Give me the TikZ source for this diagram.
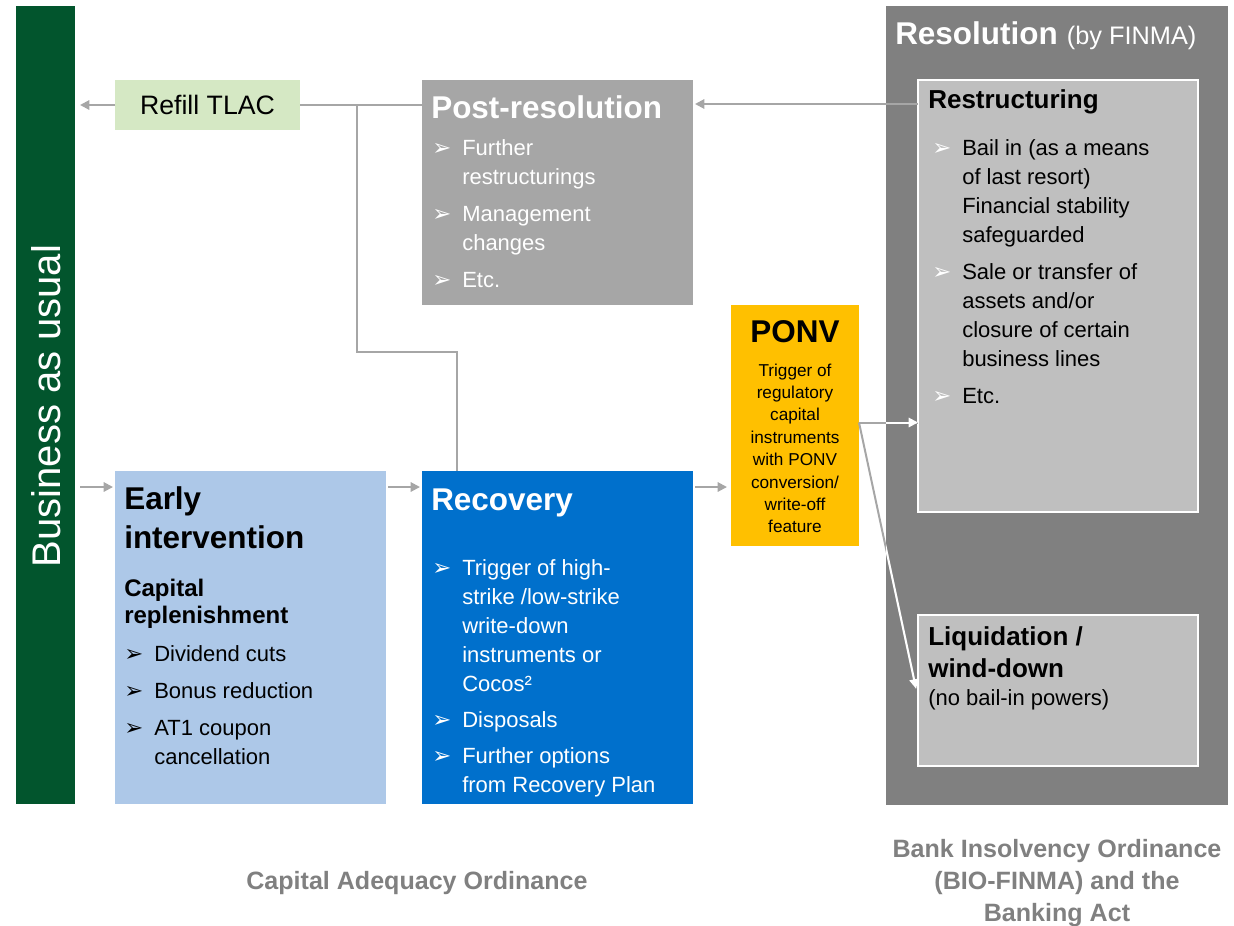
\documentclass[tikz,border=0pt]{standalone}
\usepackage{fontspec}
\setmainfont{Liberation Sans}
\newfontfamily\bulfont{DejaVu Sans}
\usetikzlibrary{arrows.meta,calc}
\definecolor{bauGreen}{RGB}{2,85,45}
\definecolor{refillGreen}{RGB}{213,232,196}
\definecolor{postGray}{RGB}{166,166,166}
\definecolor{resGray}{RGB}{128,128,128}
\definecolor{boxGray}{RGB}{191,191,191}
\definecolor{earlyBlue}{RGB}{173,200,232}
\definecolor{recBlue}{RGB}{0,112,204}
\definecolor{ponvYellow}{RGB}{255,192,0}
\definecolor{lineGray}{RGB}{166,166,166}
\newcommand{\blk}{\makebox[22.5pt][l]{\bulfont\fontsize{17}{17}\selectfont\color{black}➢}}
\newcommand{\blw}{\makebox[22.5pt][l]{\bulfont\fontsize{17}{17}\selectfont\color{white}➢}}
\newcommand{\ind}{\hspace*{22.5pt}}
\newcommand{\tl}[1]{\begin{tabular}[t]{@{}l@{}}#1\end{tabular}}
\newcommand{\tc}[1]{\begin{tabular}[t]{@{}c@{}}#1\end{tabular}}
\begin{document}
\begin{tikzpicture}[x=0.75pt,y=-0.75pt,
  box/.style={inner sep=0pt, outer sep=0pt, draw=none},
  line/.style={draw=lineGray, line width=1.5pt},
  arr/.style={line, -{Triangle[length=7pt,width=7pt]}},
  warr/.style={draw=white, line width=1.5pt, -{Triangle[length=7pt,width=7pt]}},
  body/.style={font=\fontsize{16.5}{21.75}\selectfont, anchor=base west, inner sep=0pt},
  bigtitle/.style={font=\bfseries\fontsize{23.6}{29.25}\selectfont, anchor=base west, inner sep=0pt},
  subtitle/.style={font=\bfseries\fontsize{19.5}{24}\selectfont, anchor=base west, inner sep=0pt},
  lawlabel/.style={font=\bfseries\fontsize{18.8}{24}\selectfont, text=resGray, anchor=base, inner sep=0pt}
]
\useasboundingbox (0,0) rectangle (1234,925);

% boxes
\node[box, fill=bauGreen, minimum width=44.25pt, minimum height=598.5pt] (bau) at (45.5,405) {};
\node[box, fill=resGray, minimum width=256.5pt, minimum height=599.25pt] (res) at (1057,405.5) {};
\node[box, fill=boxGray, draw=white, line width=1.5pt, minimum width=210pt, minimum height=324pt] (restr) at (1058,296) {};
\node[box, fill=boxGray, draw=white, line width=1.5pt, minimum width=210pt, minimum height=113.25pt] (liq) at (1058,690.5) {};
\node[box, fill=refillGreen, minimum width=138.75pt, minimum height=37.5pt, font=\fontsize{20}{24}\selectfont] (refill) at (207.5,105) {Refill TLAC};
\node[box, fill=postGray, minimum width=203.25pt, minimum height=168.75pt] (post) at (557.5,192.5) {};
\node[box, fill=earlyBlue, minimum width=203.25pt, minimum height=249.75pt] (early) at (250.5,637.5) {};
\node[box, fill=recBlue, minimum width=203.25pt, minimum height=249.75pt] (rec) at (557.5,637.5) {};
\node[box, fill=ponvYellow, minimum width=96pt, minimum height=180.75pt] (ponv) at (795,425.5) {};

% vertical label
\node[rotate=90, text=white, font=\fontsize{30}{36}\selectfont, inner sep=0pt] (bautxt) at (46,406) {Business as usual};

% Resolution
\node[anchor=base west, inner sep=0pt, text=white] (restitle) at (895,44) {{\bfseries\fontsize{23.6}{29}\selectfont Resolution}\hspace{4pt} {\fontsize{19}{24}\selectfont (by FINMA)}};
\node[subtitle] (restrtitle) at (928,108) {Restructuring};
\node[body] (restrtxt) at (932,155) {\tl{\blw Bail in (as a means\\ \ind of last resort)\\ \ind Financial stability\\ \ind safeguarded\\[6pt] \blw Sale or transfer of\\ \ind assets and/or\\ \ind closure of certain\\ \ind business lines\\[6pt] \blw Etc.}};
\node[subtitle] (liqtitle) at (928,645) {\tl{Liquidation /\\ wind-down}};
\node[body] (liqtxt) at (928,705) {(no bail-in powers)};

% Post-resolution
\node[bigtitle, text=white] (posttitle) at (431,118) {Post-resolution};
\node[body, text=white] (posttxt) at (432,155) {\tl{\blw Further\\ \ind restructurings\\[6pt] \blw Management\\ \ind changes\\[6pt] \blw Etc.}};

% Early intervention
\node[bigtitle] (earlytitle) at (124,509) {\tl{Early\\ intervention}};
\node[font=\bfseries\fontsize{18}{20.25}\selectfont, anchor=base west, inner sep=0pt] (earlysub) at (124,596) {\tl{Capital\\ replenishment}};
\node[body] (earlytxt) at (124,661) {\tl{\blk Dividend cuts\\[6pt] \blk Bonus reduction\\[6pt] \blk AT1 coupon\\ \ind cancellation}};

% Recovery
\node[bigtitle, text=white] (rectitle) at (431,510) {Recovery};
\node[body, text=white] (rectxt) at (432,575) {\tl{\blw Trigger of high-\\ \ind strike /low-strike\\ \ind write-down\\ \ind instruments or\\ \ind Cocos²\\[5.5pt] \blw Disposals\\[5.5pt] \blw Further options\\ \ind from Recovery Plan}};

% PONV
\node[font=\bfseries\fontsize{23.6}{29}\selectfont, anchor=base, inner sep=0pt] (ponvtitle) at (795,342) {PONV};
\node[font=\fontsize{12.9}{16.8}\selectfont, anchor=base, inner sep=0pt] (ponvtxt) at (795,376) {\tc{Trigger of\\ regulatory\\ capital\\ instruments\\ with PONV\\ conversion/\\ write-off\\ feature}};

% law labels
\node[lawlabel] (cao) at (417,889) {Capital Adequacy Ordinance};
\node[lawlabel] (bio) at (1057,857) {\tc{Bank Insolvency Ordinance\\ (BIO-FINMA) and the\\ Banking Act}};

% connectors
\coordinate (j) at (357,105);
\coordinate (jlow) at (357,352);
\draw[arr] (refill.west) -- ($(bau.east |- refill.west)+(5,0)$);
\draw[line] (refill.east) -- (refill.east -| post.west);
\draw[line] ($(rec.north west)+(35,0)$) |- (jlow) -- (j);
\coordinate (r1) at ($(restr.north west)+(0,24)$);
\draw[arr] (r1) -- ($(r1 -| post.east)+(2,0)$);
\draw[arr] ($(bau.east |- early.north)+(5,16)$) -- ($(early.north west)+(-2,16)$);
\draw[arr] ($(early.north east)+(2,16)$) -- ($(rec.north west)+(-2,16)$);
\draw[arr] ($(rec.north east)+(2,16)$) -- ($(ponv.west |- rec.north)+(-4,16)$);
\coordinate (p1) at ($(ponv.east)+(0,-3)$);
\coordinate (p2) at ($(liq.west)+(-2,-2)$);
\draw[line] (p1) -- (p1 -| restr.west);
\draw[line] (p1) -- (p2);
\begin{scope}
  \clip (res.north west) rectangle (res.south east);
  \draw[warr] (p1) -- (p1 -| restr.west);
  \draw[warr] (p1) -- (p2);
\end{scope}
\end{tikzpicture}
\end{document}
